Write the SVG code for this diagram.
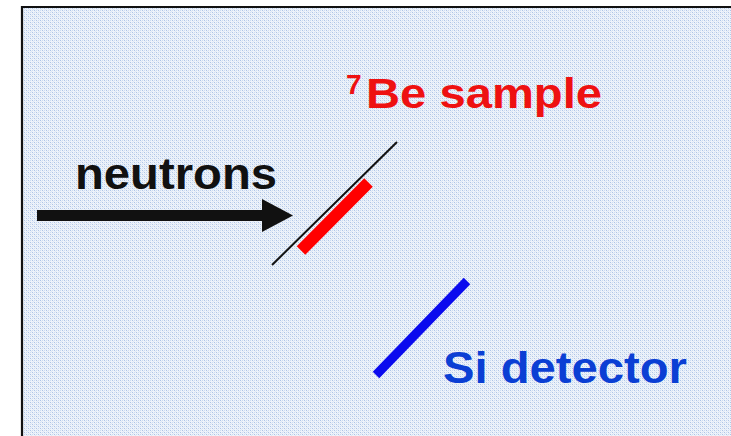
<svg xmlns="http://www.w3.org/2000/svg" width="731" height="436" viewBox="0 0 731 436">
  <defs>
    <!-- dithered light-blue paper texture -->
    <pattern id="dither" x="0" y="0" width="4" height="4" patternUnits="userSpaceOnUse">
      <rect width="4" height="4" fill="#eef3fa"/>
      <rect x="0" y="0" width="1" height="1" fill="#aec4e6"/>
      <rect x="2" y="2" width="1" height="1" fill="#aec4e6"/>
      <rect x="2" y="0" width="1" height="1" fill="#cddcf1"/>
      <rect x="0" y="2" width="1" height="1" fill="#cddcf1"/>
      <rect x="1" y="1" width="1" height="1" fill="#dde7f5"/>
      <rect x="3" y="3" width="1" height="1" fill="#dde7f5"/>
    </pattern>
  </defs>
  <style>
    .lbl { font-family: "Liberation Sans", Arial, sans-serif; font-weight: bold; }
  </style>

  <rect x="0" y="0" width="731" height="436" fill="#ffffff"/>
  <!-- panel with black top/left frame -->
  <rect x="22" y="7" width="720" height="440" fill="url(#dither)" shape-rendering="crispEdges"/>
  <path d="M22 437 V7 H731" fill="none" stroke="#111111" stroke-width="2.2"/>

  <!-- incoming neutron beam -->
  <g id="neutrons">
    <text class="lbl" x="75" y="189" font-size="45" fill="#111111" textLength="202" lengthAdjust="spacingAndGlyphs">neutrons</text>
    <rect x="37" y="210" width="227" height="11" fill="#111111"/>
    <polygon points="262,199 293,215.5 262,232" fill="#111111"/>
  </g>

  <!-- sample on its backing foil -->
  <g id="sample">
    <line x1="272" y1="265" x2="397" y2="142" stroke="#111111" stroke-width="2"/>
    <line x1="301" y1="250.5" x2="368.5" y2="182.5" stroke="#ff0000" stroke-width="12"/>
    <text class="lbl" x="346" y="94" font-size="28" fill="#ee1111">7</text>
    <text class="lbl" x="366" y="108" font-size="42" fill="#ee1111" textLength="236" lengthAdjust="spacingAndGlyphs">Be sample</text>
  </g>

  <!-- silicon detector -->
  <g id="detector">
    <line x1="376" y1="375" x2="467" y2="281" stroke="#0a0aee" stroke-width="9"/>
    <text class="lbl" x="443" y="383" font-size="45" fill="#0b3fd4" textLength="244" lengthAdjust="spacingAndGlyphs">Si detector</text>
  </g>
</svg>
